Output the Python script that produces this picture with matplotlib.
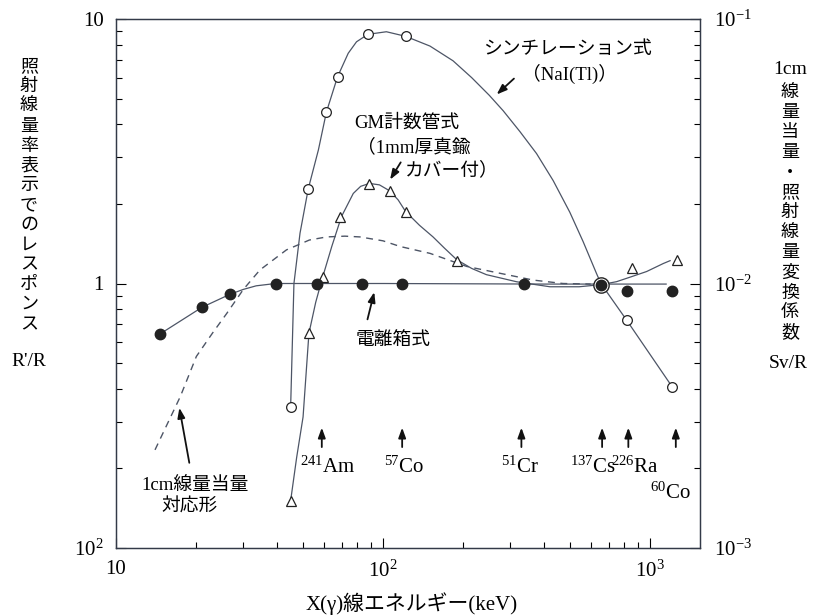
import matplotlib
matplotlib.use("Agg")
import matplotlib.pyplot as plt
from matplotlib.ticker import NullFormatter

plt.rcParams['font.family'] = ['Liberation Serif', 'Noto Sans CJK JP', 'DejaVu Sans']
plt.rcParams['mathtext.fontset'] = 'custom'
plt.rcParams['mathtext.rm'] = 'Liberation Serif'
plt.rcParams['mathtext.it'] = 'Liberation Serif:italic'

# ionization chamber (filled circles)
ion_E = [14.6, 21.0, 26.7, 39.6, 56.6, 83.5, 118, 338, 655, 820, 1208]
ion_R = [0.644, 0.813, 0.91, 1.0, 1.0, 1.0, 1.0, 1.0, 0.99, 0.94, 0.935]
ion_curve_E = [14.6, 21.0, 26.7, 30.0, 33.5, 39.6, 100, 400, 1150]
ion_curve_R = [0.644, 0.813, 0.91, 0.95, 0.98, 1.0, 1.0, 0.995, 0.995]

# NaI(Tl) scintillation (open circles)
nai_E = [45.1, 52.5, 61.4, 67.6, 87.8, 121.6, 817, 1213]
nai_R = [0.342, 2.28, 4.45, 6.05, 8.75, 8.6, 0.728, 0.406]
nai_curve_E = [45.1, 46.4, 48.9, 52.5, 57.3, 61.4, 67.6, 74.1, 79.6, 87.8, 103, 121.6,
               150, 183, 215, 250, 282, 326, 376, 434, 501, 562, 631, 655, 817, 1213]
nai_curve_R = [0.342, 1.0, 1.55, 2.28, 3.2, 4.45, 6.05, 7.42, 8.2, 8.75, 8.95, 8.6,
               7.9, 6.95, 6.0, 5.15, 4.5, 3.75, 3.1, 2.45, 1.86, 1.44, 1.09, 1.0, 0.728, 0.406]
cs_E = [655]
cs_R = [0.99]

# GM counter (open triangles)
gm_E = [45.1, 52.8, 59.4, 69.3, 88.7, 106, 121.6, 190, 853, 1262]
gm_R = [0.151, 0.648, 1.06, 1.78, 2.38, 2.24, 1.87, 1.22, 1.14, 1.23]
gm_curve_E = [45.1, 47.5, 50.2, 52.8, 56.0, 59.4, 64.3, 69.9, 77.4, 82.5, 88.9, 97, 106, 114,
              121.6, 137, 154, 170, 189, 215, 244, 317, 422, 543, 655, 750, 850, 972, 1122, 1190]
gm_curve_R = [0.151, 0.22, 0.313, 0.648, 0.85, 1.055, 1.38, 1.79, 2.19, 2.33, 2.39, 2.36, 2.24, 2.07,
              1.87, 1.66, 1.50, 1.36, 1.23, 1.14, 1.08, 1.015, 0.972, 0.972, 0.99, 1.016, 1.06, 1.11, 1.19, 1.22]

# 1cm dose equivalent response (dashed)
h1cm_E = [14.0, 17.4, 20.0, 23.0, 26.0, 30.0, 34.6, 43.5, 53, 61.5, 72, 82, 100, 116, 150, 206, 266,
          366, 472, 600]
h1cm_R = [0.235, 0.373, 0.53, 0.65, 0.771, 0.95, 1.125, 1.34, 1.46, 1.50, 1.51, 1.50, 1.45, 1.38, 1.30,
          1.16, 1.10, 1.03, 1.0, 0.995]

nuclide_E = [59, 118, 330, 662, 830, 1250]
nuclide_labels = [r'$^{241}$Am', r'$^{57}$Co', r'$^{51}$Cr', r'$^{137}$Cs', r'$^{226}$Ra', r'$^{60}$Co']
nuclide_label_E = [62, 120, 325, 610, 880, 1190]
nuclide_label_R = [0.202, 0.202, 0.202, 0.202, 0.202, 0.161]

line_c = '#4d5566'
mark_c = '#222222'

fig = plt.figure(figsize=(8.15, 6.16), dpi=100)
ax = fig.add_axes([116/815, 1-548/616, (700-116)/815, (548-19)/616])
ax.set_xscale('log')
ax.set_yscale('log')
ax.set_xlim(10, 1540)
ax.set_ylim(0.1, 10)

ax.plot(h1cm_E, h1cm_R, color=line_c, lw=1.0, dashes=(5, 4))
ax.plot(ion_curve_E, ion_curve_R, color=line_c, lw=0.9)
ax.plot(nai_curve_E, nai_curve_R, color=line_c, lw=0.9)
ax.plot(gm_curve_E, gm_curve_R, color=line_c, lw=0.9)

ax.plot(gm_E, gm_R, ls='none', marker='^', ms=7.5, mfc='white', mec=mark_c, mew=0.9)
ax.plot(nai_E, nai_R, ls='none', marker='o', ms=7, mfc='white', mec=mark_c, mew=0.9)
ax.plot(cs_E, cs_R, ls='none', marker='o', ms=11, mfc='white', mec=mark_c, mew=1.0)
ax.plot(ion_E, ion_R, ls='none', marker='o', ms=7.5, mfc=mark_c, mec=mark_c)

arrow = dict(arrowstyle='-|>,head_length=0.6,head_width=0.22', color='#111111', lw=1.3)

# nuclide arrows
for E, lab, lx, ly in zip(nuclide_E, nuclide_labels, nuclide_label_E, nuclide_label_R):
    ax.annotate('', xy=(E, 0.292), xytext=(E, 0.235), arrowprops=arrow)
    ax.text(lx, ly, lab, ha='center', va='center', fontsize=15)

fs = 13.5
ax.text(489, 7.64, 'シンチレーション式', ha='center', va='center', fontsize=fs)
ax.text(501, 6.2, '（NaI(Tl)）', ha='center', va='center', fontsize=fs)
ax.annotate('', xy=(262, 5.1), xytext=(315, 6.05), arrowprops=arrow)

ax.text(123, 4.04, 'GM計数管式', ha='center', va='center', fontsize=fs)
ax.text(131, 3.28, '（1mm厚真鍮', ha='center', va='center', fontsize=fs)
ax.text(181, 2.69, 'カバー付）', ha='center', va='center', fontsize=fs)
ax.annotate('', xy=(105, 2.42), xytext=(118, 2.93), arrowprops=arrow)

ax.text(109, 0.611, '電離箱式', ha='center', va='center', fontsize=fs)
ax.annotate('', xy=(93.3, 0.95), xytext=(87, 0.715), arrowprops=arrow)

ax.text(19.8, 0.173, '1cm線量当量', ha='center', va='center', fontsize=fs)
ax.text(18.9, 0.143, '対応形', ha='center', va='center', fontsize=fs)
ax.annotate('', xy=(17.2, 0.347), xytext=(18.9, 0.205), arrowprops=arrow)

# axes styling
ax.set_xticks([10, 100, 1000])
ax.set_xticklabels(['10', r'10$^2$', r'10$^3$'])
ax.set_yticks([0.1, 1, 10])
ax.set_yticklabels([r'10$^2$', '1', '10'])
ax.xaxis.set_minor_formatter(NullFormatter())
ax.yaxis.set_minor_formatter(NullFormatter())
ax.tick_params(which='both', direction='in', top=False, right=False, labelsize=15)
ax.tick_params(which='major', length=7, width=0.8)
ax.tick_params(which='minor', length=4, width=0.8)
ax.tick_params(axis='y', pad=9)
ax.tick_params(axis='x', pad=9)

ax2 = ax.twinx()
ax2.set_yscale('log')
ax2.set_ylim(1e-3, 1e-1)
ax2.set_yticks([1e-3, 1e-2, 1e-1])
ax2.set_yticklabels([r'10$^{-3}$', r'10$^{-2}$', r'10$^{-1}$'])
ax2.yaxis.set_minor_formatter(NullFormatter())
ax2.tick_params(which='both', direction='in', labelsize=15, pad=10)
ax2.tick_params(which='major', length=7, width=0.8)
ax2.tick_params(which='minor', length=4, width=0.8)

for a in (ax, ax2):
    for s in a.spines.values():
        s.set_linewidth(0.9)
        s.set_color('#333a48')

# vertical axis titles
left_chars = '照射線量率表示でのレスポンス'
for i, ch in enumerate(left_chars):
    fig.text(29/815, 1 - (67 + i*19.8)/616, ch, ha='center', va='center', fontsize=13)
fig.text(29/815, 1 - 362/616, "R'/R", ha='center', va='center', fontsize=14)

fig.text(790/815, 1 - 70/616, '1cm', ha='center', va='center', fontsize=14)
right_chars = '線量当量・照射線量変換係数'
for i, ch in enumerate(right_chars):
    fig.text(790/815, 1 - (93 + i*20.0)/616, ch, ha='center', va='center', fontsize=13)
fig.text(788/815, 1 - 363/616, 'Sv/R', ha='center', va='center', fontsize=14)

fig.text(412/815, 1 - 604/616, 'X(γ)線エネルギー(keV)', ha='center', va='center', fontsize=15)

fig.savefig('out.png', dpi=100)
